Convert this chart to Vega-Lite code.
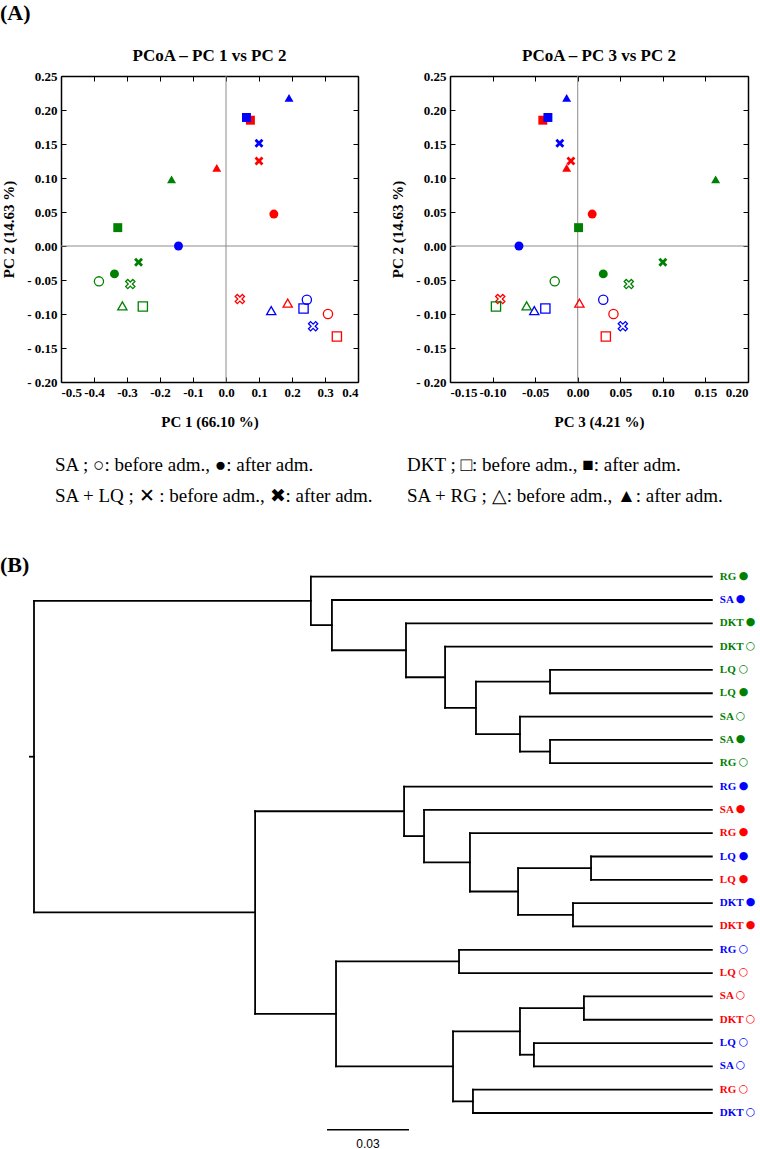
{
  "$schema": "https://vega.github.io/schema/vega-lite/v6.json",
  "padding": {"left": 0, "top": 2, "right": 0, "bottom": 0},
  "autosize": {"type": "pad"},
  "background": "white",
  "title": {"text": "(A)", "anchor": "start", "frame": "bounds", "fontSize": 22, "fontWeight": "bold", "font": "Liberation Serif", "offset": 22, "color": "black"},
  "config": {
    "font": "Liberation Serif",
    "view": {"stroke": null},
    "axis": {
      "labelFont": "Liberation Serif", "labelFontWeight": "bold", "labelFontSize": 13, "labelColor": "black",
      "titleFont": "Liberation Serif", "titleFontWeight": "bold", "titleFontSize": 15, "titleColor": "black",
      "domainColor": "black", "domainWidth": 1.5, "tickColor": "black", "tickWidth": 1, "tickSize": -5,
      "labelPadding": 9, "grid": false
    },
    "title": {"font": "Liberation Serif", "fontWeight": "bold", "color": "black"}
  },
  "datasets": {
    "pcoa": [
      {"group": "S1", "trt": "SA", "time": "after", "pc1": 0.145, "pc2": 0.047, "pc3": 0.017},
      {"group": "S1", "trt": "DKT", "time": "after", "pc1": 0.074, "pc2": 0.185, "pc3": -0.041},
      {"group": "S1", "trt": "LQ", "time": "after", "pc1": 0.100, "pc2": 0.125, "pc3": -0.008},
      {"group": "S1", "trt": "RG", "time": "after", "pc1": -0.028, "pc2": 0.115, "pc3": -0.013},
      {"group": "S1", "trt": "SA", "time": "before", "pc1": 0.309, "pc2": -0.100, "pc3": 0.042},
      {"group": "S1", "trt": "DKT", "time": "before", "pc1": 0.336, "pc2": -0.133, "pc3": 0.033},
      {"group": "S1", "trt": "LQ", "time": "before", "pc1": 0.042, "pc2": -0.078, "pc3": -0.091},
      {"group": "S1", "trt": "RG", "time": "before", "pc1": 0.187, "pc2": -0.084, "pc3": 0.002},
      {"group": "S2", "trt": "SA", "time": "after", "pc1": -0.144, "pc2": 0.000, "pc3": -0.069},
      {"group": "S2", "trt": "DKT", "time": "after", "pc1": 0.062, "pc2": 0.189, "pc3": -0.035},
      {"group": "S2", "trt": "LQ", "time": "after", "pc1": 0.100, "pc2": 0.151, "pc3": -0.021},
      {"group": "S2", "trt": "RG", "time": "after", "pc1": 0.191, "pc2": 0.218, "pc3": -0.013},
      {"group": "S2", "trt": "SA", "time": "before", "pc1": 0.245, "pc2": -0.079, "pc3": 0.030},
      {"group": "S2", "trt": "DKT", "time": "before", "pc1": 0.235, "pc2": -0.092, "pc3": -0.038},
      {"group": "S2", "trt": "LQ", "time": "before", "pc1": 0.264, "pc2": -0.118, "pc3": 0.053},
      {"group": "S2", "trt": "RG", "time": "before", "pc1": 0.137, "pc2": -0.095, "pc3": -0.051},
      {"group": "S3", "trt": "SA", "time": "after", "pc1": -0.338, "pc2": -0.041, "pc3": 0.030},
      {"group": "S3", "trt": "DKT", "time": "after", "pc1": -0.328, "pc2": 0.027, "pc3": 0.001},
      {"group": "S3", "trt": "LQ", "time": "after", "pc1": -0.265, "pc2": -0.024, "pc3": 0.100},
      {"group": "S3", "trt": "RG", "time": "after", "pc1": -0.165, "pc2": 0.098, "pc3": 0.162},
      {"group": "S3", "trt": "SA", "time": "before", "pc1": -0.385, "pc2": -0.052, "pc3": -0.027},
      {"group": "S3", "trt": "DKT", "time": "before", "pc1": -0.252, "pc2": -0.089, "pc3": -0.096},
      {"group": "S3", "trt": "LQ", "time": "before", "pc1": -0.290, "pc2": -0.056, "pc3": 0.060},
      {"group": "S3", "trt": "RG", "time": "before", "pc1": -0.314, "pc2": -0.088, "pc3": -0.060}
    ],
    "legend": [
      {"col": 1, "row": 1, "text": "SA ; ○: before adm., ●: after adm."},
      {"col": 2, "row": 1, "text": "DKT ; □: before adm., ■: after adm."},
      {"col": 1, "row": 2, "text": "SA + LQ ; ✕ : before adm., ✖: after adm."},
      {"col": 2, "row": 2, "text": "SA + RG ; △: before adm., ▲: after adm."}
    ],
    "leaves": [
      {"leaf": 0, "height": 0.248, "trt": "RG", "time": "after", "group": "S3"},
      {"leaf": 1, "height": 0.248, "trt": "SA", "time": "after", "group": "S2"},
      {"leaf": 2, "height": 0.248, "trt": "DKT", "time": "after", "group": "S3"},
      {"leaf": 3, "height": 0.248, "trt": "DKT", "time": "before", "group": "S3"},
      {"leaf": 4, "height": 0.248, "trt": "LQ", "time": "before", "group": "S3"},
      {"leaf": 5, "height": 0.248, "trt": "LQ", "time": "after", "group": "S3"},
      {"leaf": 6, "height": 0.248, "trt": "SA", "time": "before", "group": "S3"},
      {"leaf": 7, "height": 0.248, "trt": "SA", "time": "after", "group": "S3"},
      {"leaf": 8, "height": 0.248, "trt": "RG", "time": "before", "group": "S3"},
      {"leaf": 9, "height": 0.248, "trt": "RG", "time": "after", "group": "S2"},
      {"leaf": 10, "height": 0.248, "trt": "SA", "time": "after", "group": "S1"},
      {"leaf": 11, "height": 0.248, "trt": "RG", "time": "after", "group": "S1"},
      {"leaf": 12, "height": 0.248, "trt": "LQ", "time": "after", "group": "S2"},
      {"leaf": 13, "height": 0.248, "trt": "LQ", "time": "after", "group": "S1"},
      {"leaf": 14, "height": 0.248, "trt": "DKT", "time": "after", "group": "S2"},
      {"leaf": 15, "height": 0.248, "trt": "DKT", "time": "after", "group": "S1"},
      {"leaf": 16, "height": 0.248, "trt": "RG", "time": "before", "group": "S2"},
      {"leaf": 17, "height": 0.248, "trt": "LQ", "time": "before", "group": "S1"},
      {"leaf": 18, "height": 0.248, "trt": "SA", "time": "before", "group": "S1"},
      {"leaf": 19, "height": 0.248, "trt": "DKT", "time": "before", "group": "S1"},
      {"leaf": 20, "height": 0.248, "trt": "LQ", "time": "before", "group": "S2"},
      {"leaf": 21, "height": 0.248, "trt": "SA", "time": "before", "group": "S2"},
      {"leaf": 22, "height": 0.248, "trt": "RG", "time": "before", "group": "S1"},
      {"leaf": 23, "height": 0.248, "trt": "DKT", "time": "before", "group": "S2"}
    ],
    "segments": [
      {"x": 0.1013, "x2": 0.1013, "y": 0, "y2": 2.078},
      {"x": 0.1090, "x2": 0.1090, "y": 1, "y2": 3.156},
      {"x": 0.1361, "x2": 0.1361, "y": 2, "y2": 4.3125},
      {"x": 0.1504, "x2": 0.1504, "y": 3, "y2": 5.625},
      {"x": 0.1617, "x2": 0.1617, "y": 4.5, "y2": 6.75},
      {"x": 0.1888, "x2": 0.1888, "y": 4, "y2": 5},
      {"x": 0.1778, "x2": 0.1778, "y": 6, "y2": 7.5},
      {"x": 0.1888, "x2": 0.1888, "y": 7, "y2": 8},
      {"x": 0.0809, "x2": 0.0809, "y": 10.06, "y2": 18.75},
      {"x": 0.1354, "x2": 0.1354, "y": 9, "y2": 11.125},
      {"x": 0.1427, "x2": 0.1427, "y": 10, "y2": 12.25},
      {"x": 0.1595, "x2": 0.1595, "y": 11, "y2": 13.5},
      {"x": 0.1771, "x2": 0.1771, "y": 12.5, "y2": 14.5},
      {"x": 0.2038, "x2": 0.2038, "y": 12, "y2": 13},
      {"x": 0.1972, "x2": 0.1972, "y": 14, "y2": 15},
      {"x": 0.1105, "x2": 0.1105, "y": 16.5, "y2": 21},
      {"x": 0.1555, "x2": 0.1555, "y": 16, "y2": 17},
      {"x": 0.1533, "x2": 0.1533, "y": 19.5, "y2": 22.5},
      {"x": 0.1778, "x2": 0.1778, "y": 18.5, "y2": 20.5},
      {"x": 0.2012, "x2": 0.2012, "y": 18, "y2": 19},
      {"x": 0.1829, "x2": 0.1829, "y": 20, "y2": 21},
      {"x": 0.1606, "x2": 0.1606, "y": 22, "y2": 23},
      {"x": 0, "x2": 0, "y": 1.039, "y2": 14.4},
      {"x": -0.0015, "x2": 0, "y": 7.72, "y2": 7.72},
      {"x": 0, "x2": 0.1013, "y": 1.039, "y2": 1.039},
      {"x": 0, "x2": 0.0809, "y": 14.4, "y2": 14.4},
      {"x": 0.1013, "x2": 0.248, "y": 0, "y2": 0},
      {"x": 0.1013, "x2": 0.1090, "y": 2.078, "y2": 2.078},
      {"x": 0.1090, "x2": 0.248, "y": 1, "y2": 1},
      {"x": 0.1090, "x2": 0.1361, "y": 3.156, "y2": 3.156},
      {"x": 0.1361, "x2": 0.248, "y": 2, "y2": 2},
      {"x": 0.1361, "x2": 0.1504, "y": 4.3125, "y2": 4.3125},
      {"x": 0.1504, "x2": 0.248, "y": 3, "y2": 3},
      {"x": 0.1504, "x2": 0.1617, "y": 5.625, "y2": 5.625},
      {"x": 0.1617, "x2": 0.1888, "y": 4.5, "y2": 4.5},
      {"x": 0.1617, "x2": 0.1778, "y": 6.75, "y2": 6.75},
      {"x": 0.1888, "x2": 0.248, "y": 4, "y2": 4},
      {"x": 0.1888, "x2": 0.248, "y": 5, "y2": 5},
      {"x": 0.1778, "x2": 0.248, "y": 6, "y2": 6},
      {"x": 0.1778, "x2": 0.1888, "y": 7.5, "y2": 7.5},
      {"x": 0.1888, "x2": 0.248, "y": 7, "y2": 7},
      {"x": 0.1888, "x2": 0.248, "y": 8, "y2": 8},
      {"x": 0.0809, "x2": 0.1354, "y": 10.06, "y2": 10.06},
      {"x": 0.0809, "x2": 0.1105, "y": 18.75, "y2": 18.75},
      {"x": 0.1354, "x2": 0.248, "y": 9, "y2": 9},
      {"x": 0.1354, "x2": 0.1427, "y": 11.125, "y2": 11.125},
      {"x": 0.1427, "x2": 0.248, "y": 10, "y2": 10},
      {"x": 0.1427, "x2": 0.1595, "y": 12.25, "y2": 12.25},
      {"x": 0.1595, "x2": 0.248, "y": 11, "y2": 11},
      {"x": 0.1595, "x2": 0.1771, "y": 13.5, "y2": 13.5},
      {"x": 0.1771, "x2": 0.2038, "y": 12.5, "y2": 12.5},
      {"x": 0.1771, "x2": 0.1972, "y": 14.5, "y2": 14.5},
      {"x": 0.2038, "x2": 0.248, "y": 12, "y2": 12},
      {"x": 0.2038, "x2": 0.248, "y": 13, "y2": 13},
      {"x": 0.1972, "x2": 0.248, "y": 14, "y2": 14},
      {"x": 0.1972, "x2": 0.248, "y": 15, "y2": 15},
      {"x": 0.1105, "x2": 0.1555, "y": 16.5, "y2": 16.5},
      {"x": 0.1105, "x2": 0.1533, "y": 21, "y2": 21},
      {"x": 0.1555, "x2": 0.248, "y": 16, "y2": 16},
      {"x": 0.1555, "x2": 0.248, "y": 17, "y2": 17},
      {"x": 0.1533, "x2": 0.1778, "y": 19.5, "y2": 19.5},
      {"x": 0.1533, "x2": 0.1606, "y": 22.5, "y2": 22.5},
      {"x": 0.1778, "x2": 0.2012, "y": 18.5, "y2": 18.5},
      {"x": 0.1778, "x2": 0.1829, "y": 20.5, "y2": 20.5},
      {"x": 0.2012, "x2": 0.248, "y": 18, "y2": 18},
      {"x": 0.2012, "x2": 0.248, "y": 19, "y2": 19},
      {"x": 0.1829, "x2": 0.248, "y": 20, "y2": 20},
      {"x": 0.1829, "x2": 0.248, "y": 21, "y2": 21},
      {"x": 0.1606, "x2": 0.248, "y": 22, "y2": 22},
      {"x": 0.1606, "x2": 0.248, "y": 23, "y2": 23}
    ],
    "scalebar": [
      {"x": 0.1072, "x2": 0.1372, "mid": 0.1222, "y": 23.72, "label": "0.03"}
    ]
  },
  "columns": 2,
  "align": "each",
  "bounds": "flush",
  "spacing": {"row": 52, "column": 92},
  "resolve": {"scale": {"x": "independent", "y": "independent"}},
  "concat": [
    {
      "width": 297, "height": 306,
      "title": {"text": "PCoA – PC 1 vs PC 2", "fontSize": 17, "offset": 5},
      "layer": [
        {"data": {"values": [{}]}, "mark": {"type": "rule", "color": "#8c8c8c", "strokeWidth": 1},
         "encoding": {"x": {"datum": 0, "type": "quantitative", "scale": {"domain": [-0.5, 0.4], "nice": false, "zero": false}, "axis": null}}},
        {"data": {"values": [{}]}, "mark": {"type": "rule", "color": "#8c8c8c", "strokeWidth": 1},
         "encoding": {"y": {"datum": 0, "type": "quantitative", "scale": {"domain": [-0.2, 0.25], "nice": false, "zero": false}, "axis": null}}},
        {"data": {"name": "pcoa"}, "transform": [{"filter": "datum.time === 'before'"}],
         "mark": {"type": "point", "filled": false, "opacity": 1, "strokeWidth": 1.3, "size": 85},
         "encoding": {
           "x": {"field": "pc1", "type": "quantitative", "scale": {"domain": [-0.5, 0.4], "nice": false, "zero": false},
                 "axis": {"orient": "bottom", "values": [-0.5, -0.4, -0.3, -0.2, -0.1, 0, 0.1, 0.2, 0.3, 0.4], "labelExpr": "(datum.value < -1e-9 ? '-' : '') + format(abs(datum.value), '.1f')", "title": "PC 1 (66.10 %)", "titlePadding": 15}},
           "y": {"field": "pc2", "type": "quantitative", "scale": {"domain": [-0.2, 0.25], "nice": false, "zero": false},
                 "axis": {"orient": "left", "values": [-0.2, -0.15, -0.1, -0.05, 0, 0.05, 0.1, 0.15, 0.2, 0.25], "labelExpr": "(datum.value < -1e-9 ? '- ' : '') + format(abs(datum.value), '.2f')", "title": "PC 2 (14.63 %)", "titlePadding": 10}},
           "shape": {"field": "trt", "type": "nominal", "scale": {"domain": ["SA", "DKT", "LQ", "RG"], "range": ["circle", "square", "M-1,-0.55L-0.55,-1L0,-0.45L0.55,-1L1,-0.55L0.45,0L1,0.55L0.55,1L0,0.45L-0.55,1L-1,0.55L-0.45,0Z", "triangle-up"]}, "legend": null},
           "color": {"field": "group", "type": "nominal", "scale": {"domain": ["S1", "S2", "S3"], "range": ["#ff0000", "#0000ff", "#008000"]}, "legend": null}
         }},
        {"data": {"name": "pcoa"}, "transform": [{"filter": "datum.time === 'after'"}],
         "mark": {"type": "point", "filled": true, "opacity": 1, "size": 80},
         "encoding": {
           "x": {"field": "pc1", "type": "quantitative", "scale": {"domain": [-0.5, 0.4], "nice": false, "zero": false},
                 "axis": {"orient": "top", "values": [-0.5, -0.4, -0.3, -0.2, -0.1, 0, 0.1, 0.2, 0.3, 0.4], "labels": false, "title": null}},
           "y": {"field": "pc2", "type": "quantitative", "scale": {"domain": [-0.2, 0.25], "nice": false, "zero": false},
                 "axis": {"orient": "right", "values": [-0.2, -0.15, -0.1, -0.05, 0, 0.05, 0.1, 0.15, 0.2, 0.25], "labels": false, "title": null}},
           "shape": {"field": "trt", "type": "nominal", "scale": {"domain": ["SA", "DKT", "LQ", "RG"], "range": ["circle", "square", "M-1,-0.55L-0.55,-1L0,-0.45L0.55,-1L1,-0.55L0.45,0L1,0.55L0.55,1L0,0.45L-0.55,1L-1,0.55L-0.45,0Z", "triangle-up"]}, "legend": null},
           "color": {"field": "group", "type": "nominal", "scale": {"domain": ["S1", "S2", "S3"], "range": ["#ff0000", "#0000ff", "#008000"]}, "legend": null}
         }}
      ],
      "resolve": {"axis": {"x": "independent", "y": "independent"}}
    },
    {
      "width": 298, "height": 306,
      "title": {"text": "PCoA – PC 3 vs PC 2", "fontSize": 17, "offset": 5},
      "layer": [
        {"data": {"values": [{}]}, "mark": {"type": "rule", "color": "#8c8c8c", "strokeWidth": 1},
         "encoding": {"x": {"datum": 0, "type": "quantitative", "scale": {"domain": [-0.15, 0.2], "nice": false, "zero": false}, "axis": null}}},
        {"data": {"values": [{}]}, "mark": {"type": "rule", "color": "#8c8c8c", "strokeWidth": 1},
         "encoding": {"y": {"datum": 0, "type": "quantitative", "scale": {"domain": [-0.2, 0.25], "nice": false, "zero": false}, "axis": null}}},
        {"data": {"name": "pcoa"}, "transform": [{"filter": "datum.time === 'before'"}],
         "mark": {"type": "point", "filled": false, "opacity": 1, "strokeWidth": 1.3, "size": 85},
         "encoding": {
           "x": {"field": "pc3", "type": "quantitative", "scale": {"domain": [-0.15, 0.2], "nice": false, "zero": false},
                 "axis": {"orient": "bottom", "values": [-0.15, -0.1, -0.05, 0, 0.05, 0.1, 0.15, 0.2], "labelExpr": "(datum.value < -1e-9 ? '-' : '') + format(abs(datum.value), '.2f')", "title": "PC 3 (4.21 %)", "titlePadding": 15}},
           "y": {"field": "pc2", "type": "quantitative", "scale": {"domain": [-0.2, 0.25], "nice": false, "zero": false},
                 "axis": {"orient": "left", "values": [-0.2, -0.15, -0.1, -0.05, 0, 0.05, 0.1, 0.15, 0.2, 0.25], "labelExpr": "(datum.value < -1e-9 ? '- ' : '') + format(abs(datum.value), '.2f')", "title": "PC 2 (14.63 %)", "titlePadding": 10}},
           "shape": {"field": "trt", "type": "nominal", "scale": {"domain": ["SA", "DKT", "LQ", "RG"], "range": ["circle", "square", "M-1,-0.55L-0.55,-1L0,-0.45L0.55,-1L1,-0.55L0.45,0L1,0.55L0.55,1L0,0.45L-0.55,1L-1,0.55L-0.45,0Z", "triangle-up"]}, "legend": null},
           "color": {"field": "group", "type": "nominal", "scale": {"domain": ["S1", "S2", "S3"], "range": ["#ff0000", "#0000ff", "#008000"]}, "legend": null}
         }},
        {"data": {"name": "pcoa"}, "transform": [{"filter": "datum.time === 'after'"}],
         "mark": {"type": "point", "filled": true, "opacity": 1, "size": 80},
         "encoding": {
           "x": {"field": "pc3", "type": "quantitative", "scale": {"domain": [-0.15, 0.2], "nice": false, "zero": false},
                 "axis": {"orient": "top", "values": [-0.15, -0.1, -0.05, 0, 0.05, 0.1, 0.15, 0.2], "labels": false, "title": null}},
           "y": {"field": "pc2", "type": "quantitative", "scale": {"domain": [-0.2, 0.25], "nice": false, "zero": false},
                 "axis": {"orient": "right", "values": [-0.2, -0.15, -0.1, -0.05, 0, 0.05, 0.1, 0.15, 0.2, 0.25], "labels": false, "title": null}},
           "shape": {"field": "trt", "type": "nominal", "scale": {"domain": ["SA", "DKT", "LQ", "RG"], "range": ["circle", "square", "M-1,-0.55L-0.55,-1L0,-0.45L0.55,-1L1,-0.55L0.45,0L1,0.55L0.55,1L0,0.45L-0.55,1L-1,0.55L-0.45,0Z", "triangle-up"]}, "legend": null},
           "color": {"field": "group", "type": "nominal", "scale": {"domain": ["S1", "S2", "S3"], "range": ["#ff0000", "#0000ff", "#008000"]}, "legend": null}
         }}
      ],
      "resolve": {"axis": {"x": "independent", "y": "independent"}}
    },
    {
      "width": 297, "height": 79,
      "data": {"name": "legend"},
      "transform": [{"filter": "datum.col === 1"}],
      "mark": {"type": "text", "align": "left", "baseline": "middle", "fontSize": 19, "font": "Liberation Serif", "color": "black"},
      "encoding": {
        "x": {"field": "col", "type": "quantitative", "scale": {"domain": [1.0202, 2.0202], "nice": false, "zero": false}, "axis": null},
        "y": {"field": "row", "type": "quantitative", "scale": {"domain": [0, 2.548], "reverse": true, "nice": false, "zero": false}, "axis": null},
        "text": {"field": "text"}
      }
    },
    {
      "width": 298, "height": 79,
      "data": {"name": "legend"},
      "transform": [{"filter": "datum.col === 2"}],
      "mark": {"type": "text", "align": "left", "baseline": "middle", "fontSize": 19, "font": "Liberation Serif", "color": "black"},
      "encoding": {
        "x": {"field": "col", "type": "quantitative", "scale": {"domain": [2.1443, 3.1443], "nice": false, "zero": false}, "axis": null},
        "y": {"field": "row", "type": "quantitative", "scale": {"domain": [0, 2.548], "reverse": true, "nice": false, "zero": false}, "axis": null},
        "text": {"field": "text"}
      }
    },
    {
      "width": 297, "height": 583,
      "title": {"text": "(B)", "anchor": "start", "frame": "group", "dx": -61, "offset": -12, "fontSize": 22, "fontWeight": "bold"},
      "layer": [
        {"data": {"name": "segments"},
         "mark": {"type": "rule", "color": "black", "strokeWidth": 1.8, "strokeCap": "square"},
         "encoding": {
           "x": {"field": "x", "type": "quantitative", "scale": {"domain": [0.00988, 0.11854], "nice": false, "zero": false}, "axis": null},
           "x2": {"field": "x2"},
           "y": {"field": "y", "type": "quantitative", "scale": {"domain": [-0.5, 24.5], "reverse": true, "nice": false, "zero": false}, "axis": null},
           "y2": {"field": "y2"}
         }},
        {"data": {"name": "leaves"},
         "mark": {"type": "text", "align": "left", "baseline": "middle", "dx": 8, "fontSize": 11, "fontWeight": "bold", "font": "Liberation Serif"},
         "encoding": {
           "x": {"field": "height", "type": "quantitative", "scale": {"domain": [0.00988, 0.11854], "nice": false, "zero": false}, "axis": null},
           "y": {"field": "leaf", "type": "quantitative", "scale": {"domain": [-0.5, 24.5], "reverse": true, "nice": false, "zero": false}, "axis": null},
           "text": {"field": "trt"},
           "color": {"field": "group", "type": "nominal", "scale": {"domain": ["S1", "S2", "S3"], "range": ["#ff0000", "#0000ff", "#008000"]}, "legend": null}
         }},
        {"data": {"name": "leaves"},
         "transform": [{"filter": "datum.trt === 'SA'"}],
         "mark": {"type": "text", "align": "left", "baseline": "middle", "dx": 24, "dy": -1, "fontSize": 11, "font": "DejaVu Sans"},
         "encoding": {
           "x": {"field": "height", "type": "quantitative", "scale": {"domain": [0.00988, 0.11854], "nice": false, "zero": false}, "axis": null},
           "y": {"field": "leaf", "type": "quantitative", "scale": {"domain": [-0.5, 24.5], "reverse": true, "nice": false, "zero": false}, "axis": null},
           "text": {"condition": {"test": "datum.time === 'after'", "value": "●"}, "value": "○"},
           "color": {"field": "group", "type": "nominal", "scale": {"domain": ["S1", "S2", "S3"], "range": ["#ff0000", "#0000ff", "#008000"]}, "legend": null}
         }},
        {"data": {"name": "leaves"},
         "transform": [{"filter": "datum.trt === 'RG' || datum.trt === 'LQ'"}],
         "mark": {"type": "text", "align": "left", "baseline": "middle", "dx": 27, "dy": -1, "fontSize": 11, "font": "DejaVu Sans"},
         "encoding": {
           "x": {"field": "height", "type": "quantitative", "scale": {"domain": [0.00988, 0.11854], "nice": false, "zero": false}, "axis": null},
           "y": {"field": "leaf", "type": "quantitative", "scale": {"domain": [-0.5, 24.5], "reverse": true, "nice": false, "zero": false}, "axis": null},
           "text": {"condition": {"test": "datum.time === 'after'", "value": "●"}, "value": "○"},
           "color": {"field": "group", "type": "nominal", "scale": {"domain": ["S1", "S2", "S3"], "range": ["#ff0000", "#0000ff", "#008000"]}, "legend": null}
         }},
        {"data": {"name": "leaves"},
         "transform": [{"filter": "datum.trt === 'DKT'"}],
         "mark": {"type": "text", "align": "left", "baseline": "middle", "dx": 34, "dy": -1, "fontSize": 11, "font": "DejaVu Sans"},
         "encoding": {
           "x": {"field": "height", "type": "quantitative", "scale": {"domain": [0.00988, 0.11854], "nice": false, "zero": false}, "axis": null},
           "y": {"field": "leaf", "type": "quantitative", "scale": {"domain": [-0.5, 24.5], "reverse": true, "nice": false, "zero": false}, "axis": null},
           "text": {"condition": {"test": "datum.time === 'after'", "value": "●"}, "value": "○"},
           "color": {"field": "group", "type": "nominal", "scale": {"domain": ["S1", "S2", "S3"], "range": ["#ff0000", "#0000ff", "#008000"]}, "legend": null}
         }},
        {"data": {"name": "scalebar"},
         "mark": {"type": "rule", "color": "black", "strokeWidth": 1.5},
         "encoding": {
           "x": {"field": "x", "type": "quantitative", "scale": {"domain": [0.00988, 0.11854], "nice": false, "zero": false}, "axis": null},
           "x2": {"field": "x2"},
           "y": {"field": "y", "type": "quantitative", "scale": {"domain": [-0.5, 24.5], "reverse": true, "nice": false, "zero": false}, "axis": null}
         }},
        {"data": {"name": "scalebar"},
         "mark": {"type": "text", "font": "Liberation Sans", "fontSize": 12, "dy": 14, "baseline": "middle", "align": "center", "color": "black"},
         "encoding": {
           "x": {"field": "mid", "type": "quantitative", "scale": {"domain": [0.00988, 0.11854], "nice": false, "zero": false}, "axis": null},
           "y": {"field": "y", "type": "quantitative", "scale": {"domain": [-0.5, 24.5], "reverse": true, "nice": false, "zero": false}, "axis": null},
           "text": {"field": "label"}
         }}
      ]
    }
  ]
}
